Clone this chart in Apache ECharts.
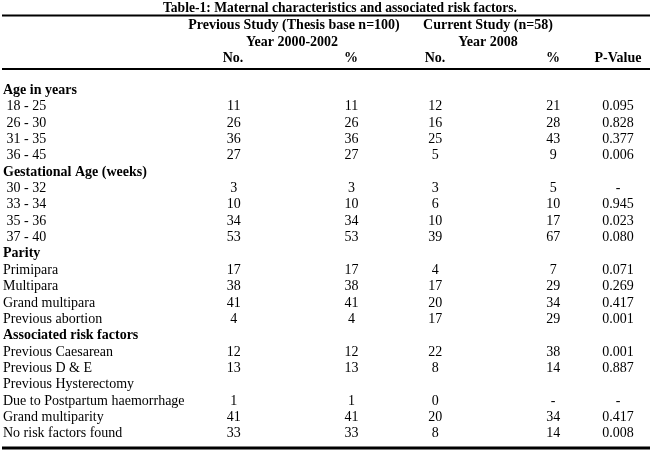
<!DOCTYPE html>
<html>
<head>
<meta charset="utf-8">
<script src="https://cdn.jsdelivr.net/npm/echarts@6/dist/echarts.min.js"></script>
<style>
html, body { margin: 0; padding: 0; background: #fff; }
#tbl { width: 650px; height: 454px; }
</style>
</head>
<body>
<div id="tbl"></div>
<script>
// row labels of the table body (top to bottom)
var rowLabels = [
    'Age in years', ' 18 - 25', ' 26 - 30', ' 31 - 35', ' 36 - 45',
    'Gestational Age (weeks)', ' 30 - 32', ' 33 - 34', ' 35 - 36', ' 37 - 40',
    'Parity', 'Primipara', 'Multipara', 'Grand multipara', 'Previous abortion',
    'Associated risk factors', 'Previous Caesarean', 'Previous D & E',
    'Previous Hysterectomy', 'Due to Postpartum haemorrhage',
    'Grand multiparity', 'No risk factors found'
];
var sections = ['Age in years', 'Gestational Age (weeks)', 'Parity', 'Associated risk factors'];

// previous study (thesis base n=100), 2000-2002
var prevNo = [null, 11, 26, 36, 27, null, 3, 10, 34, 53, null, 17, 38, 41, 4, null, 12, 13, null, 1, 41, 33];
var prevPct = [null, 11, 26, 36, 27, null, 3, 10, 34, 53, null, 17, 38, 41, 4, null, 12, 13, null, 1, 41, 33];
// current study (n=58), 2008
var curNo = [null, 12, 16, 25, 5, null, 3, 6, 10, 39, null, 4, 17, 20, 17, null, 22, 8, null, 0, 20, 8];
var curPct = [null, 21, 28, 43, 9, null, 5, 10, 17, 67, null, 7, 29, 34, 29, null, 38, 14, null, '-', 34, 14];
var pValue = [null, '0.095', '0.828', '0.377', '0.006', null, '-', '0.945', '0.023', '0.080',
    null, '0.071', '0.269', '0.417', '0.001', null, '0.001', '0.887', null, '-', '0.417', '0.008'];

var colHeads = ['No.', '%', 'No.', '%', 'P-Value'];

// layout: column centres in px
var colX = [233, 351, 435, 553, 618];
var FONT = 'Liberation Serif';

var myChart = echarts.init(document.getElementById('tbl'));

function colSeries(values, c) {
    var data = [];
    for (var i = 0; i < values.length; i++) {
        if (values[i] !== null) data.push([colX[c], i, values[i]]);
    }
    return {
        type: 'scatter',
        symbolSize: 0,
        itemStyle: { color: '#000', opacity: 1 },
        silent: true,
        data: data,
        label: {
            show: true,
            position: 'inside',
            formatter: function (p) { return String(p.value[2]); },
            color: '#000',
            opacity: 1,
            textBorderWidth: 0,
            textBorderColor: 'transparent',
            fontFamily: FONT,
            fontSize: 14
        }
    };
}

function headText(txt, x, y, size) {
    return {
        type: 'text', x: x, y: y,
        style: { text: txt, fill: '#000', font: 'bold ' + size + 'px ' + FONT, textAlign: 'center', textVerticalAlign: 'middle' }
    };
}

// header texts and rules
var graphics = [
    headText('Table-1: Maternal characteristics and associated risk factors.', 340, 8, 13.6),
    { type: 'line', shape: { x1: 2, y1: 15.5, x2: 650, y2: 15.5 }, style: { stroke: '#000', lineWidth: 2 } },
    headText('Previous Study (Thesis base n=100)', 294, 25, 14),
    headText('Current Study (n=58)', 488, 25, 14),
    headText('Year 2000-2002', 292, 42, 14),
    headText('Year 2008', 488, 42, 14),
    { type: 'line', shape: { x1: 2, y1: 69, x2: 650, y2: 69 }, style: { stroke: '#000', lineWidth: 2 } },
    { type: 'line', shape: { x1: 2, y1: 448, x2: 650, y2: 448 }, style: { stroke: '#000', lineWidth: 3 } }
];
colHeads.forEach(function (h, c) {
    graphics.push(headText(h, colX[c], 58, 14));
});

option = {
    backgroundColor: '#fff',
    animation: false,
    grid: { left: 0, right: 0, top: 82, bottom: 12 },
    xAxis: { type: 'value', min: 0, max: 650, show: false },
    yAxis: {
        type: 'category',
        inverse: true,
        data: rowLabels,
        axisLine: { show: false },
        axisTick: { show: false },
        splitLine: { show: false },
        axisLabel: {
            inside: true,
            interval: 0,
            margin: 2,
            color: '#000',
            fontFamily: FONT,
            fontSize: 14,
            formatter: function (v) {
                return sections.indexOf(v) >= 0 ? '{b|' + v + '}' : v;
            },
            rich: {
                b: { fontWeight: 'bold', fontFamily: FONT, fontSize: 14, color: '#000' }
            }
        }
    },
    graphic: graphics,
    series: [
        colSeries(prevNo, 0),
        colSeries(prevPct, 1),
        colSeries(curNo, 2),
        colSeries(curPct, 3),
        colSeries(pValue, 4)
    ]
};

myChart.setOption(option);
</script>
</body>
</html>
